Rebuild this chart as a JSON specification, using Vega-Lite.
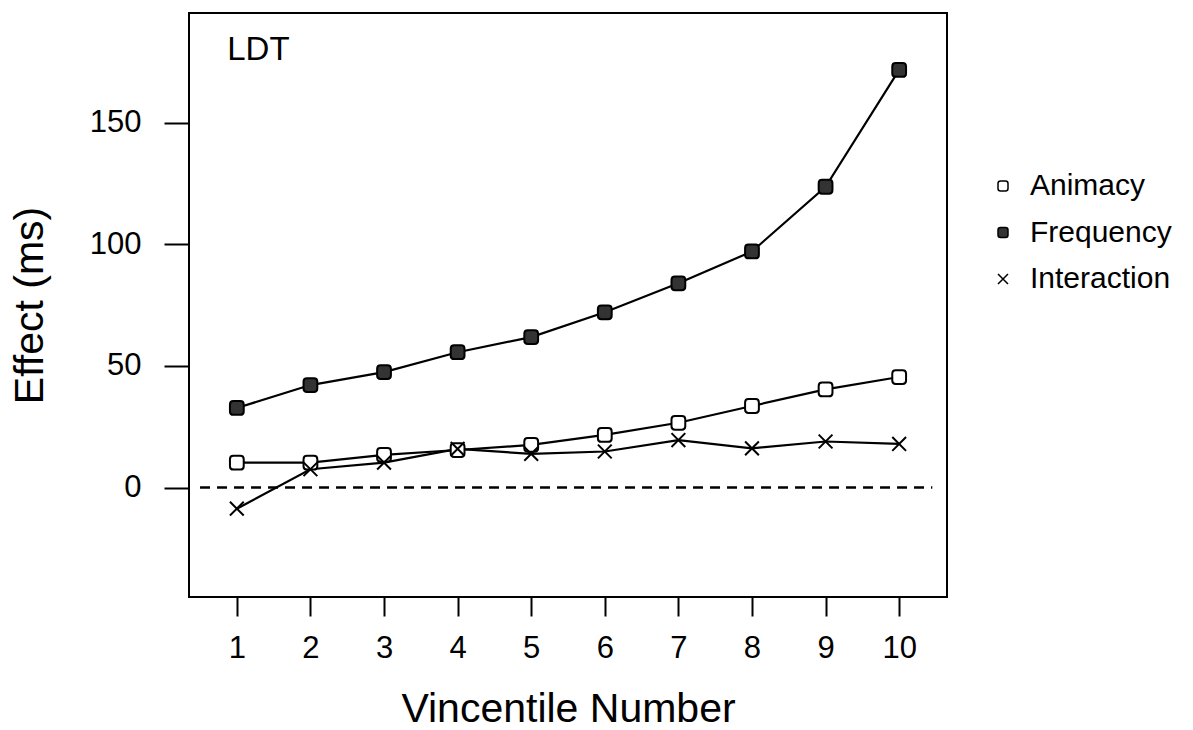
{
  "$schema": "https://vega.github.io/schema/vega-lite/v6.json",
  "autosize": {"type": "none"},
  "padding": {"left": 189, "top": 13, "right": 246, "bottom": 133},
  "width": 758,
  "height": 584,
  "background": "white",
  "config": {
    "font": "Liberation Sans",
    "view": {"stroke": "black", "strokeWidth": 2},
    "axis": {"grid": false, "domain": false, "tickColor": "black", "tickWidth": 2, "labelColor": "black", "titleColor": "black", "labelFont": "Liberation Sans", "titleFont": "Liberation Sans", "titleFontWeight": "normal"},
    "legend": {"title": null, "orient": "none", "legendX": 799, "legendY": 158, "padding": 0, "labelFontSize": 30, "labelFont": "Liberation Sans", "labelColor": "black", "labelOffset": 12, "rowPadding": 16.5, "symbolSize": 100, "symbolStrokeWidth": 1.5}
  },
  "data": {"values": [
    {"v": 1, "series": "Animacy", "effect": 10.2},
    {"v": 2, "series": "Animacy", "effect": 10.2},
    {"v": 3, "series": "Animacy", "effect": 13.4},
    {"v": 4, "series": "Animacy", "effect": 15.4},
    {"v": 5, "series": "Animacy", "effect": 17.5},
    {"v": 6, "series": "Animacy", "effect": 21.6},
    {"v": 7, "series": "Animacy", "effect": 26.6},
    {"v": 8, "series": "Animacy", "effect": 33.5},
    {"v": 9, "series": "Animacy", "effect": 40.3},
    {"v": 10, "series": "Animacy", "effect": 45.4},
    {"v": 1, "series": "Frequency", "effect": 32.7},
    {"v": 2, "series": "Frequency", "effect": 42.1},
    {"v": 3, "series": "Frequency", "effect": 47.4},
    {"v": 4, "series": "Frequency", "effect": 55.6},
    {"v": 5, "series": "Frequency", "effect": 61.8},
    {"v": 6, "series": "Frequency", "effect": 72.0},
    {"v": 7, "series": "Frequency", "effect": 83.9},
    {"v": 8, "series": "Frequency", "effect": 97.0},
    {"v": 9, "series": "Frequency", "effect": 123.6},
    {"v": 10, "series": "Frequency", "effect": 171.6},
    {"v": 1, "series": "Interaction", "effect": -8.7},
    {"v": 2, "series": "Interaction", "effect": 7.5},
    {"v": 3, "series": "Interaction", "effect": 10.2},
    {"v": 4, "series": "Interaction", "effect": 15.9},
    {"v": 5, "series": "Interaction", "effect": 13.8},
    {"v": 6, "series": "Interaction", "effect": 14.8},
    {"v": 7, "series": "Interaction", "effect": 19.5},
    {"v": 8, "series": "Interaction", "effect": 16.1},
    {"v": 9, "series": "Interaction", "effect": 18.9},
    {"v": 10, "series": "Interaction", "effect": 17.9}
  ]},
  "layer": [
    {
      "data": {"values": [{"label": "LDT"}]},
      "mark": {"type": "rule", "strokeDash": [10, 7], "strokeWidth": 2.4, "color": "black"},
      "encoding": {
        "x": {"datum": 0.5, "type": "quantitative"},
        "x2": {"datum": 10.45},
        "y": {"datum": 0, "type": "quantitative"}
      }
    },
    {
      "mark": {"type": "line", "color": "black", "strokeWidth": 2.2},
      "encoding": {
        "x": {"field": "v", "type": "quantitative",
          "scale": {"domain": [0.35, 10.65], "nice": false, "zero": false},
          "axis": {"values": [1,2,3,4,5,6,7,8,9,10], "format": "d", "tickSize": 19, "labelPadding": 17, "labelFontSize": 31, "title": "Vincentile Number", "titleFontSize": 41, "titleBaseline": "alphabetic", "titleX": 379, "titleY": 124, "titleAlign": "center"}},
        "y": {"field": "effect", "type": "quantitative",
          "scale": {"domain": [-45, 195], "nice": false, "zero": false},
          "axis": {"values": [0, 50, 100, 150], "tickSize": 25, "labelPadding": 23, "labelFontSize": 31, "title": "Effect (ms)", "titleFontSize": 41, "titleBaseline": "alphabetic", "titleAngle": 270, "titleX": -147, "titleY": 292, "titleAlign": "center"}},
        "detail": {"field": "series"}
      }
    },
    {
      "mark": {"type": "point", "strokeWidth": 2, "size": 190, "opacity": 1},
      "encoding": {
        "x": {"field": "v", "type": "quantitative"},
        "y": {"field": "effect", "type": "quantitative"},
        "shape": {"field": "series", "type": "nominal",
          "scale": {"domain": ["Animacy", "Frequency", "Interaction"],
            "range": ["M-1,-0.5Q-1,-1,-0.5,-1L0.5,-1Q1,-1,1,-0.5L1,0.5Q1,1,0.5,1L-0.5,1Q-1,1,-1,0.5Z",
                      "M-1,-0.5Q-1,-1,-0.5,-1L0.5,-1Q1,-1,1,-0.5L1,0.5Q1,1,0.5,1L-0.5,1Q-1,1,-1,0.5Z",
                      "M-1,-1L1,1M-1,1L1,-1"]}},
        "fill": {"field": "series", "type": "nominal",
          "scale": {"domain": ["Animacy", "Frequency", "Interaction"], "range": ["white", "#333333", "transparent"]}},
        "stroke": {"field": "series", "type": "nominal",
          "scale": {"domain": ["Animacy", "Frequency", "Interaction"], "range": ["black", "black", "black"]}}
      }
    },
    {
      "data": {"values": [{"label": "LDT"}]},
      "mark": {"type": "text", "fontSize": 33, "font": "Liberation Sans", "fontWeight": "normal", "align": "left", "baseline": "middle", "fill": "black"},
      "encoding": {
        "text": {"field": "label"},
        "x": {"datum": 0.87, "type": "quantitative"},
        "y": {"datum": 180, "type": "quantitative"}
      }
    }
  ]
}
